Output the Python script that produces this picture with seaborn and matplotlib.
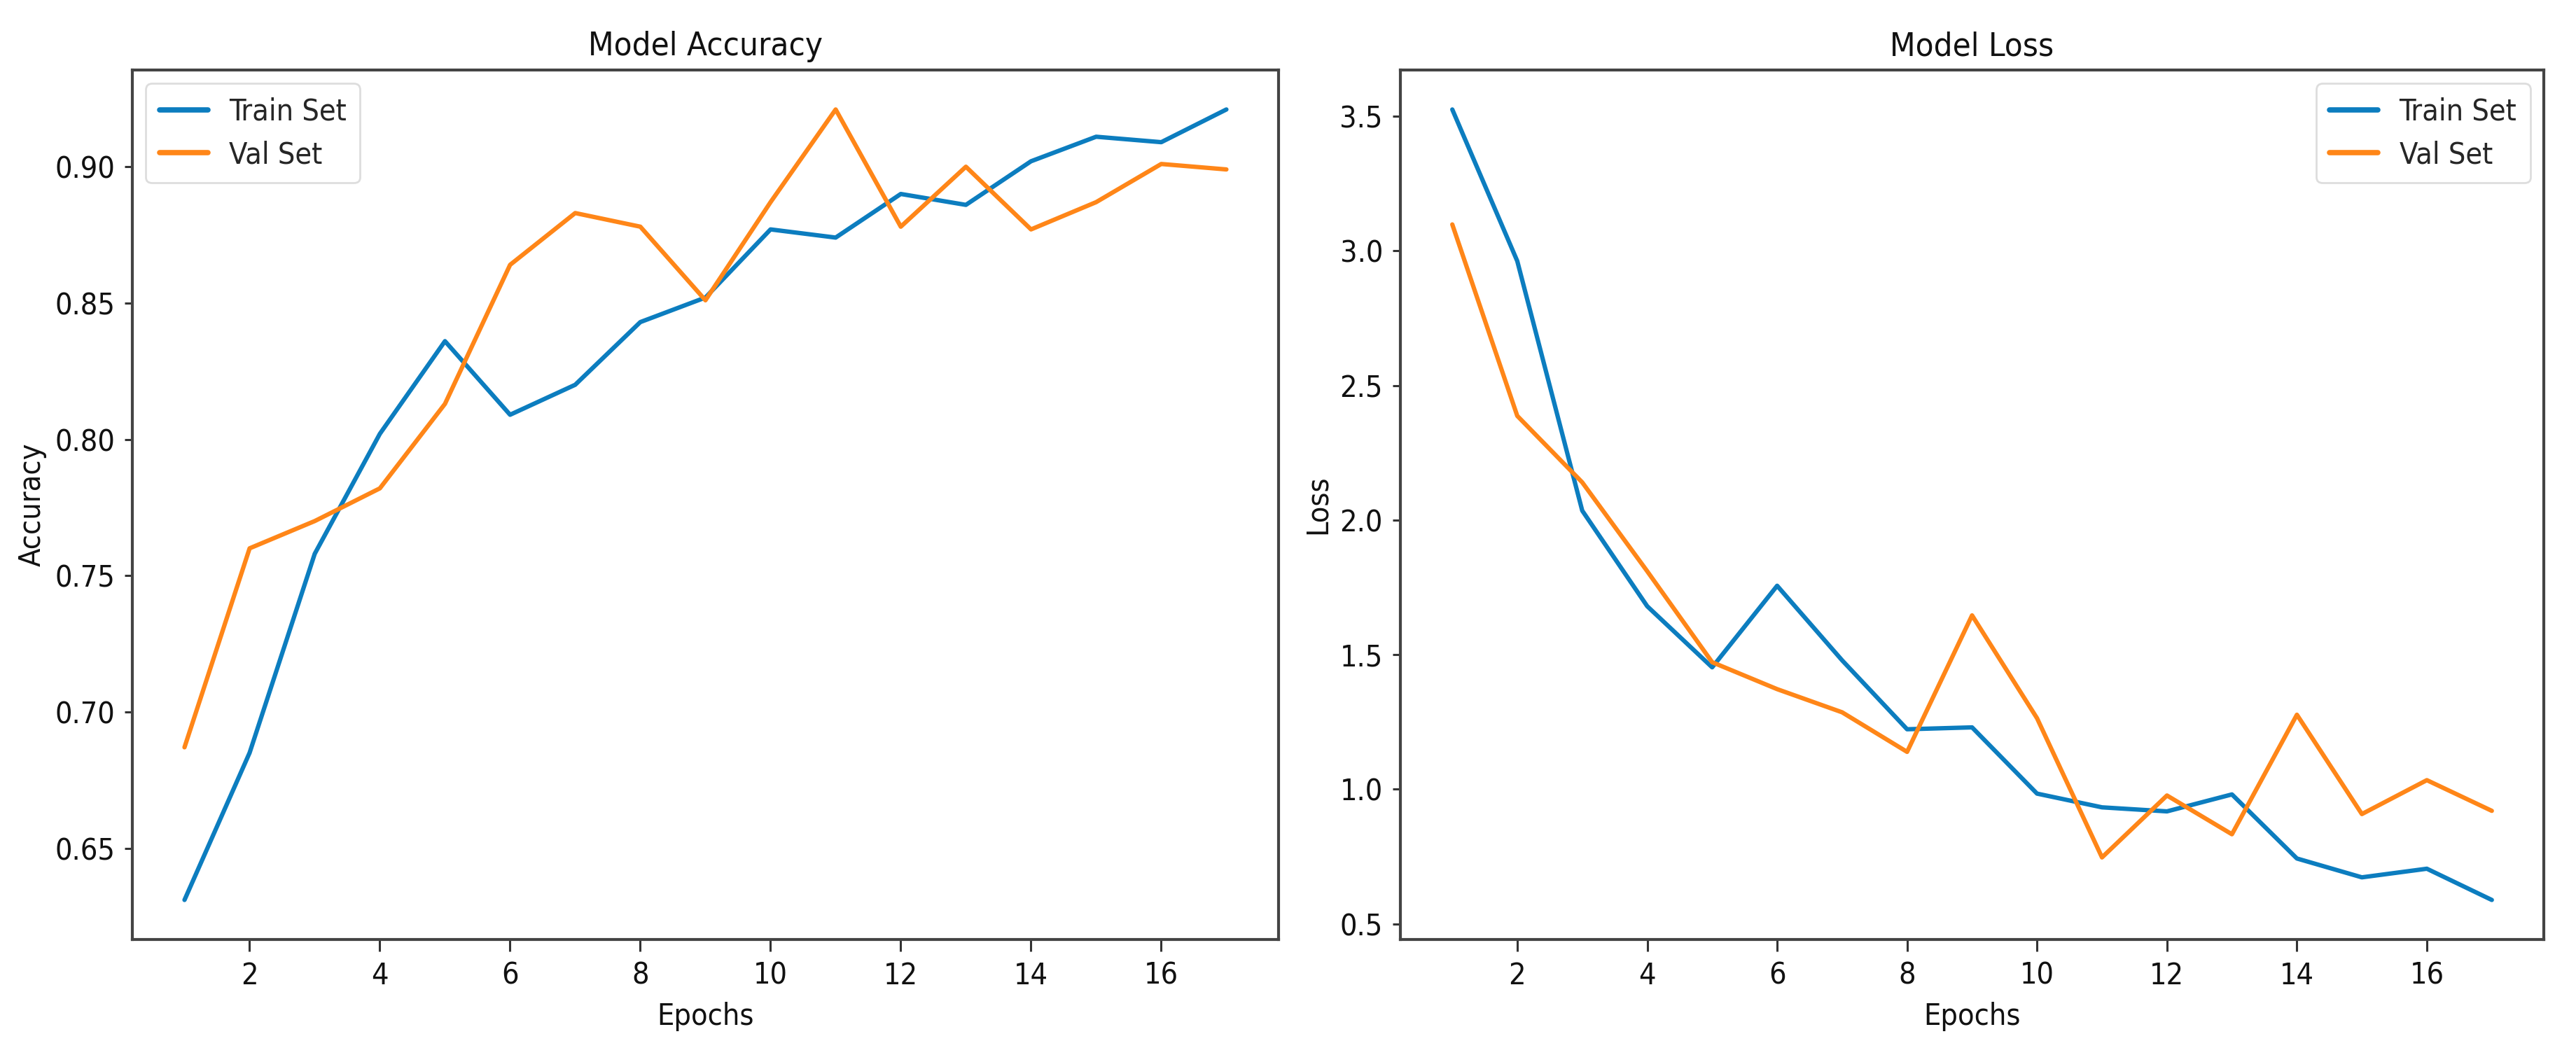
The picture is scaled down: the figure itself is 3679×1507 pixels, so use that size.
import matplotlib
matplotlib.use("Agg")
import matplotlib.pyplot as plt
import seaborn as sns
import pandas as pd

epochs = list(range(1, 18))
train_acc = [0.631, 0.685, 0.758, 0.802, 0.836, 0.809, 0.820, 0.843, 0.852,
             0.877, 0.874, 0.890, 0.886, 0.902, 0.911, 0.909, 0.921]
val_acc = [0.687, 0.760, 0.770, 0.782, 0.813, 0.864, 0.883, 0.878, 0.851,
           0.887, 0.921, 0.878, 0.900, 0.877, 0.887, 0.901, 0.899]
train_loss = [3.525, 2.962, 2.035, 1.680, 1.453, 1.756, 1.479, 1.223, 1.230,
              0.984, 0.933, 0.918, 0.981, 0.743, 0.673, 0.705, 0.589]
val_loss = [3.098, 2.387, 2.140, 1.810, 1.472, 1.372, 1.286, 1.139, 1.646,
            1.264, 0.747, 0.977, 0.833, 1.277, 0.908, 1.034, 0.920]
series_names = ["Train Set", "Val Set"]
titles = ["Model Accuracy", "Model Loss"]
ylabels = ["Accuracy", "Loss"]
xlabel = "Epochs"
xtick_values = [2, 4, 6, 8, 10, 12, 14, 16]

sns.set_style("ticks")
plt.rcParams["font.family"] = ["DejaVu Sans"]
plt.rcParams["font.stretch"] = "condensed"

palette = {"Train Set": "#0c7dbf", "Val Set": "#ff8618"}

def long_df(a, b):
    return pd.DataFrame({
        "Epoch": epochs + epochs,
        "Value": a + b,
        "Set": [series_names[0]] * len(a) + [series_names[1]] * len(b),
    })

fig = plt.figure(figsize=(36.79, 15.07), dpi=100)
ax1 = fig.add_axes([0.0514, 0.1095, 0.4449, 0.8242])
ax2 = fig.add_axes([0.5436, 0.1095, 0.4439, 0.8242])

fs = 31
for ax, (a, b), title, ylab, loc in [
    (ax1, (train_acc, val_acc), titles[0], ylabels[0], "upper left"),
    (ax2, (train_loss, val_loss), titles[1], ylabels[1], "upper right"),
]:
    sns.lineplot(data=long_df(a, b), x="Epoch", y="Value", hue="Set",
                 palette=palette, linewidth=4.5, ax=ax)
    ax.set_title(title, fontsize=fs + 3, pad=15, color="#111111")
    ax.set_xlabel(xlabel, fontsize=fs, labelpad=12, color="#111111")
    ax.set_ylabel(ylab, fontsize=fs, labelpad=8, color="#111111")
    ax.set_xticks(xtick_values)
    ax.tick_params(labelsize=fs, width=2.2, color="#333333", labelcolor="#111111")
    ax.tick_params(axis="x", length=12, pad=10)
    ax.tick_params(axis="y", length=8, pad=10)
    for s in ax.spines.values():
        s.set_linewidth(3.0)
        s.set_color("#444444")
    leg = ax.legend(loc=loc, fontsize=fs, frameon=True, handlelength=1.6,
                    handletextpad=0.7, borderpad=0.45, labelspacing=0.45,
                    borderaxespad=0.45)
    leg.get_frame().set_linewidth(2.0)
    leg.get_frame().set_edgecolor("#d5d5d5")
    for line in leg.get_lines():
        line.set_linewidth(5.5)
    ax.margins(x=0.05, y=0.05)

fig.savefig("out.png", dpi=100, facecolor="white")
